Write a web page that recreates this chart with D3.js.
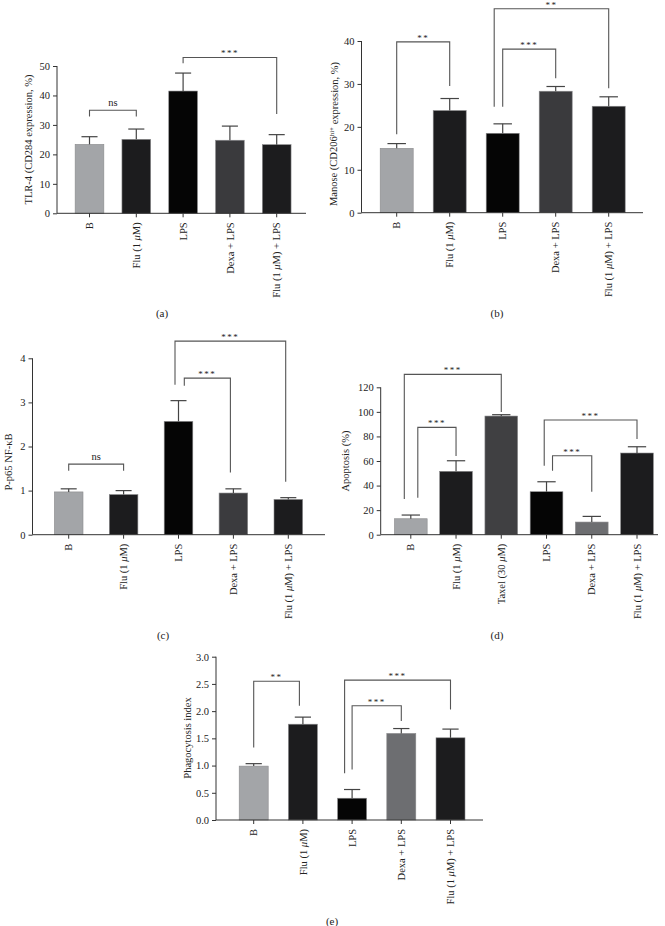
<!DOCTYPE html>
<html>
<head>
<meta charset="utf-8">
<script src="https://cdn.jsdelivr.net/npm/d3@7"></script>
<style>
  body { margin: 0; background: #fff; }
  svg { display: block; }
  text { font-family: "Liberation Serif", "DejaVu Serif", serif; fill: #222; }
</style>
</head>
<body>
<svg id="chart" width="665" height="926"></svg>
<script>
// ---------------- DATA ----------------
const catsA = ["B", "Flu (1 μM)", "LPS", "Dexa + LPS", "Flu (1 μM) + LPS"];
const valsA = [23.4, 25.1, 41.5, 24.8, 23.3];
const errA  = [2.6, 3.5, 6.1, 4.8, 3.4];
const sigA  = [
  {from: 0, to: 1, label: "ns",  y: 35.0, l: 32.9, r: 32.9},
  {from: 2, to: 4, label: "***", y: 52.9, l: 50.9, r: 33.7}
];

const catsB = ["B", "Flu (1 μM)", "LPS", "Dexa + LPS", "Flu (1 μM) + LPS"];
const valsB = [15.0, 23.8, 18.5, 28.3, 24.8];
const errB  = [1.1, 2.8, 2.2, 1.1, 2.2];
const sigB  = [
  {from: 0, to: 1, label: "**",  y: 39.8, l: 18.3, r: 29.5},
  {from: 2, to: 3, label: "***", y: 38.1, l: 24.7, r: 31.3},
  {from: 2, to: 4, label: "**",  y: 47.5, l: 24.7, r: 29.0}
];

const catsC = ["B", "Flu (1 μM)", "LPS", "Dexa + LPS", "Flu (1 μM) + LPS"];
const valsC = [0.97, 0.91, 2.57, 0.945, 0.80];
const errC  = [0.07, 0.09, 0.47, 0.095, 0.04];
const sigC  = [
  {from: 0, to: 1, label: "ns",  y: 1.60, l: 1.45, r: 1.45},
  {from: 2, to: 3, label: "***", y: 3.55, l: 3.38, r: 1.41},
  {from: 2, to: 4, label: "***", y: 4.39, l: 3.40, r: 1.20}
];

const catsD = ["B", "Flu (1 μM)", "Taxel (30 μM)", "LPS", "Dexa + LPS", "Flu (1 μM) + LPS"];
const valsD = [13.0, 51.6, 96.6, 35.0, 10.3, 66.5];
const errD  = [3.0, 8.6, 1.1, 8.1, 4.6, 5.1];
const sigD  = [
  {from: 0, to: 2, label: "***", y: 130.5, l: 29.0, r: 99.9},
  {from: 0, to: 1, label: "***", y: 87.4,  l: 30.1, r: 64.0},
  {from: 3, to: 5, label: "***", y: 93.4,  l: 56.2, r: 77.9},
  {from: 3, to: 4, label: "***", y: 64.3,  l: 52.1, r: 35.0}
];

const catsE = ["B", "Flu (1 μM)", "LPS", "Dexa + LPS", "Flu (1 μM) + LPS"];
const valsE = [0.99, 1.76, 0.40, 1.59, 1.51];
const errE  = [0.045, 0.13, 0.16, 0.09, 0.16];
const sigE  = [
  {from: 0, to: 1, label: "**",  y: 2.55, l: 1.33, r: 2.10},
  {from: 2, to: 4, label: "***", y: 2.57, l: 0.86, r: 2.03},
  {from: 2, to: 3, label: "***", y: 2.10, l: 0.93, r: 1.82}
];

// ---------------- STYLE / LAYOUT ----------------
const LIGHT = "#a3a5a8", DARK = "#1c1c1e", BLACK = "#050505";
const panels = [
  { cats: catsA, vals: valsA, errs: errA, sigs: sigA,
    colors: [LIGHT, DARK, BLACK, "#3a3a3d", DARK],
    legOff: [[0,0],[0,0]],
    axisX: 57, axisEnd: 306, y0: 213.3, yTop: 66, max: 50, step: 10, fmt: d3.format("d"),
    c0: 89.5, c1: 276.7, barW: 28.7,
    ylabel: ["TLR-4 (CD284 expression, %)"], ylabX: 28, ylabY: 139.5,
    caption: "(a)", capX: 162, capY: 317 },
  { cats: catsB, vals: valsB, errs: errB, sigs: sigB,
    colors: [LIGHT, DARK, BLACK, "#3a3a3d", DARK],
    legOff: [[0,0],[0,0],[-8.5,0]],
    axisX: 361.5, axisEnd: 643, y0: 212.7, yTop: 41, max: 40, step: 10, fmt: d3.format("d"),
    c0: 396.7, c1: 608.7, barW: 33,
    ylabel: ["Manose (CD206", "hi+", " expression, %)"], ylabX: 333, ylabY: 134,
    caption: "(b)", capX: 497, capY: 317 },
  { cats: catsC, vals: valsC, errs: errC, sigs: sigC,
    colors: [LIGHT, DARK, BLACK, "#3b3b3e", DARK],
    legOff: [[0,0],[5.8,-3],[-3.5,-2.6]],
    axisX: 32.5, axisEnd: 325, y0: 534.7, yTop: 358.3, max: 4, step: 1, fmt: d3.format("d"),
    c0: 68.7, c1: 288.3, barW: 28.6,
    ylabel: ["P-p65 NF-κB"], ylabX: 8, ylabY: 462,
    caption: "(c)", capX: 163, capY: 639 },
  { cats: catsD, vals: valsD, errs: errD, sigs: sigD,
    colors: [LIGHT, DARK, "#404042", BLACK, "#6d6e71", DARK],
    legOff: [[-6.5,0],[7,0],[-2.3,0],[6,0]],
    axisX: 380.7, axisEnd: 658, y0: 534.7, yTop: 387.3, max: 120, step: 20, fmt: d3.format("d"),
    c0: 410.8, c1: 637, barW: 32.7,
    ylabel: ["Apoptosis (%)"], ylabX: 345, ylabY: 461,
    caption: "(d)", capX: 497, capY: 639 },
  { cats: catsE, vals: valsE, errs: errE, sigs: sigE,
    colors: [LIGHT, DARK, BLACK, "#6d6e71", DARK],
    legOff: [[0,-3.5],[-7.5,0],[0,0]],
    axisX: 216, axisEnd: 483, y0: 820, yTop: 656.7, max: 3, step: 0.5, fmt: d3.format(".1f"),
    c0: 253.7, c1: 450.5, barW: 29,
    ylabel: ["Phagocytosis index"], ylabX: 187, ylabY: 738,
    caption: "(e)", capX: 332, capY: 925 }
];

const svg = d3.select("#chart");

function addLabel(sel, label) {
  // render μ in italics
  const parts = label.split("μ");
  parts.forEach((p, i) => {
    if (i > 0) sel.append("tspan").attr("font-style", "italic").text("μ");
    if (p.length) sel.append("tspan").text(p);
  });
}

panels.forEach(P => {
  const g = svg.append("g");
  const y = d3.scaleLinear().domain([0, P.max]).range([P.y0, P.yTop]);
  const x = d3.scalePoint().domain(P.cats.map((c, i) => i)).range([P.c0, P.c1]);

  // bars
  g.selectAll("rect.bar").data(P.vals).join("rect")
    .attr("x", (d, i) => x(i) - P.barW / 2)
    .attr("width", P.barW)
    .attr("y", d => y(d))
    .attr("height", d => P.y0 - y(d))
    .attr("fill", (d, i) => P.colors[i])
    .attr("stroke", "#8a8a8c").attr("stroke-width", 0.6);

  // error bars (upper)
  P.vals.forEach((v, i) => {
    const cx = x(i), top = y(v + P.errs[i]);
    g.append("line").attr("x1", cx).attr("x2", cx).attr("y1", y(v)).attr("y2", top)
      .attr("stroke", "#444").attr("stroke-width", 1.2);
    g.append("line").attr("x1", cx - P.barW * 0.28).attr("x2", cx + P.barW * 0.28)
      .attr("y1", top).attr("y2", top).attr("stroke", "#444").attr("stroke-width", 1.2);
  });

  // y axis
  const yAxis = d3.axisLeft(y).tickValues(d3.range(0, P.max + P.step / 2, P.step))
    .tickFormat(P.fmt).tickSize(4).tickPadding(3);
  const ya = g.append("g").attr("transform", `translate(${P.axisX},0)`).call(yAxis);
  ya.select(".domain").attr("stroke", "#333").attr("d", `M0,${P.y0}V${P.yTop}`);
  ya.selectAll(".tick line").attr("stroke", "#333");
  ya.selectAll(".tick text").attr("font-size", "10.5px").attr("fill", "#222")
    .attr("font-family", "Liberation Serif, serif");

  // x axis
  g.append("line").attr("x1", P.axisX).attr("x2", P.axisEnd).attr("y1", P.y0).attr("y2", P.y0)
    .attr("stroke", "#333").attr("stroke-width", 1);
  P.cats.forEach((c, i) => {
    g.append("line").attr("x1", x(i)).attr("x2", x(i)).attr("y1", P.y0).attr("y2", P.y0 + 4)
      .attr("stroke", "#333");
    const t = g.append("text")
      .attr("transform", `translate(${x(i)},${P.y0 + 9}) rotate(-90)`)
      .attr("text-anchor", "end").attr("dy", "0.35em").attr("font-size", "10.5px");
    addLabel(t, c);
  });

  // y label
  const yl = g.append("text")
    .attr("transform", `translate(${P.ylabX},${P.ylabY}) rotate(-90)`)
    .attr("text-anchor", "middle").attr("dy", "0.35em").attr("font-size", "10.5px");
  if (P.ylabel.length === 3) {
    yl.append("tspan").text(P.ylabel[0]);
    yl.append("tspan").attr("dy", "-0.45em").attr("font-size", "7px").text(P.ylabel[1]);
    yl.append("tspan").attr("dy", "0.45em").text(P.ylabel[2]);
  } else {
    yl.text(P.ylabel[0]);
  }

  // significance brackets
  P.sigs.forEach((s, k) => {
    const off = P.legOff[k] || [0, 0];
    const xl = x(s.from) + off[0], xr = x(s.to) + off[1];
    const by = y(s.y);
    g.append("path")
      .attr("d", `M${xl},${y(s.l)}V${by}H${xr}V${y(s.r)}`)
      .attr("fill", "none").attr("stroke", "#555").attr("stroke-width", 1.1);
    const isStar = s.label.indexOf("*") >= 0;
    g.append("text").attr("x", (xl + xr) / 2).attr("y", isStar ? by - 1 : by - 4)
      .attr("text-anchor", "middle")
      .attr("font-size", isStar ? "9px" : "10.5px")
      .attr("letter-spacing", isStar ? "1.5px" : "0px")
      .attr("fill", isStar ? "#666" : "#222")
      .text(s.label);
  });

  // caption
  g.append("text").attr("x", P.capX).attr("y", P.capY).attr("text-anchor", "middle")
    .attr("font-size", "11px").text(P.caption);
});
</script>
</body>
</html>
